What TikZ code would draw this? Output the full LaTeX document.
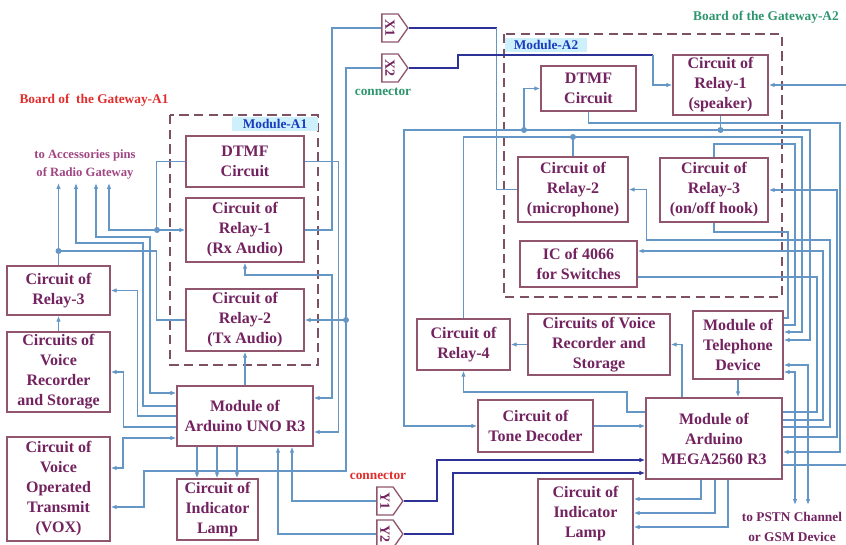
\documentclass[tikz,border=0pt]{standalone}
\usepackage{fontspec}
\setmainfont{Liberation Serif}
\usepackage{graphicx}
\usetikzlibrary{arrows.meta,shapes.symbols}

\definecolor{wirec}{RGB}{100,150,198}
\definecolor{xwirec}{RGB}{45,50,150}
\definecolor{boxc}{RGB}{145,85,110}
\definecolor{txtc}{RGB}{115,35,95}
\definecolor{acctxtc}{RGB}{160,70,130}
\definecolor{modc}{RGB}{125,80,100}
\definecolor{redc}{RGB}{225,45,45}
\definecolor{greenc}{RGB}{45,150,110}
\definecolor{modtxtc}{RGB}{25,60,190}
\definecolor{modfillc}{RGB}{205,240,252}

\tikzset{every picture/.style={line width=0.75pt}}
\tikzset{
  blk/.style={draw=boxc, line width=1.1pt, fill=white, text=txtc, align=center, inner sep=1pt,
    font=\bfseries\fontsize{12}{15}\selectfont},
  conn/.style={draw=boxc, line width=1pt, fill=white, shape=signal, signal to=east, signal pointer angle=110,
    minimum width=19.5pt, minimum height=21pt, inner sep=0pt, text=txtc, font=\bfseries\fontsize{10.5}{10.5}\selectfont},
  modbox/.style={draw=modc, line width=1.2pt, dash pattern=on 7pt off 4pt},
  modlbl/.style={fill=modfillc, text=modtxtc, inner sep=0pt, minimum height=10pt,
    font=\bfseries\fontsize{10}{12}\selectfont},
  lbl/.style={inner sep=1pt, font=\bfseries\fontsize{10}{12}\selectfont},
  acc/.style={inner sep=1pt, align=center, font=\bfseries\fontsize{9.5}{13.5}\selectfont},
  wire/.style={draw=wirec, line width=1pt},
  xwire/.style={draw=xwirec, line width=1pt},
  dot/.style={fill=wirec}
}

\begin{document}
\begin{tikzpicture}[x=0.75pt,y=0.75pt,yscale=-1,xscale=1,>={Latex[length=4.5pt,width=3.5pt]}]
\useasboundingbox (0,0) rectangle (846,545);

%Shape: dashed modules
\draw[modbox] (170,115) rectangle (318,365);
\draw[modbox] (504,34) rectangle (782,297);

% Text Node
\node[modlbl, minimum width=64.5pt] (modA) at (275,124) {Module-A1};
\node[modlbl, minimum width=61.5pt] (modB) at (546,45) {Module-A2};
\node[lbl, text=redc] (boardA) at (94,100) {Board of\ \ the Gateway-A1};
\node[lbl, text=greenc] (boardB) at (766,17) {Board of the Gateway-A2};
\node[lbl, text=greenc] (connX) at (383,92) {connector};
\node[lbl, text=redc] (connY) at (378,476) {connector};
\node[acc, text=acctxtc] (acc) at (85,164) {to Accessories pins\\of Radio Gateway};
\node[acc, text=txtc, font=\bfseries\fontsize{10}{15}\selectfont] (pstn) at (792,527) {to PSTN Channel\\or GSM Device};

%Board A1
\node[blk, minimum width=88.5pt, minimum height=38.25pt] (dtmfA) at (245,161.5) {DTMF\\Circuit};
\node[blk, minimum width=88.5pt, minimum height=48pt] (rlyAone) at (245,230) {Circuit of\\Relay-1\\(Rx Audio)};
\node[blk, minimum width=88.5pt, minimum height=46.5pt] (rlyAtwo) at (245,320) {Circuit of\\Relay-2\\(Tx Audio)};
\node[blk, minimum width=102pt, minimum height=45pt] (uno) at (245,416) {Module of\\Arduino UNO R3};
\node[blk, minimum width=60.75pt, minimum height=45.75pt] (lampA) at (217.5,509.5) {Circuit of\\Indicator\\Lamp};
\node[blk, minimum width=77.25pt, minimum height=36.75pt] (rlyAthree) at (58.5,290.5) {Circuit of\\Relay-3};
\node[blk, minimum width=77.25pt, minimum height=60pt] (recA) at (58.5,372) {Circuits of\\Voice\\Recorder\\and Storage};
\node[blk, minimum width=77.25pt, minimum height=78pt] (vox) at (58.5,489) {Circuit of\\Voice\\Operated\\Transmit\\(VOX)};

%Board A2
\node[blk, minimum width=71.25pt, minimum height=33.75pt] (dtmfB) at (588.5,88.5) {DTMF\\Circuit};
\node[blk, minimum width=71.25pt, minimum height=45pt] (rlyBone) at (720.5,85) {Circuit of\\Relay-1\\(speaker)};
\node[blk, minimum width=82.5pt, minimum height=48.75pt] (rlyBtwo) at (573,189.5) {Circuit of\\Relay-2\\(microphone)};
\node[blk, minimum width=81pt, minimum height=48pt] (rlyBthree) at (714,190) {Circuit of\\Relay-3\\(on/off hook)};
\node[blk, minimum width=87.75pt, minimum height=34.5pt] (ic) at (578.5,264) {IC of 4066\\for Switches};
\node[blk, minimum width=69.75pt, minimum height=38.25pt] (rlyBfour) at (463.5,344.5) {Circuit of\\Relay-4};
\node[blk, minimum width=106.5pt, minimum height=45.75pt] (recB) at (599,344.5) {Circuits of Voice\\Recorder and\\Storage};
\node[blk, minimum width=67.5pt, minimum height=51pt] (tel) at (738,345) {Module of\\Telephone\\Device};
\node[blk, minimum width=86.25pt, minimum height=39pt] (tone) at (535.5,426) {Circuit of\\Tone Decoder};
\node[blk, minimum width=102pt, minimum height=60.75pt] (mega) at (714,438.5) {Module of\\Arduino\\MEGA2560 R3};
\node[blk, minimum width=71.25pt, minimum height=51.75pt] (lampB) at (585.5,513.5) {Circuit of\\Indicator\\Lamp};

%Connectors
\node[conn] (X1) at (390,28) {\rotatebox{-90}{X1}};
\node[conn] (X2) at (390,68) {\rotatebox{-90}{X2}};
\node[conn] (Y1) at (385,501) {\rotatebox{-90}{Y1}};
\node[conn] (Y2) at (385,534) {\rotatebox{-90}{Y2}};

\coordinate (pinA) at (58.5,183);
\coordinate (pinB) at (76,183);
\coordinate (pinC) at (96,183);
\coordinate (pinD) at (109,183);
\coordinate (dA) at (157,230);
\coordinate (dB) at (58.5,251);
\coordinate (dC) at (346,320);
\coordinate (dD) at (524,130);
\coordinate (dE) at (720.5,130);
\coordinate (dF) at (573,137);
\coordinate (psA) at (795,505);
\coordinate (psB) at (808,505);
\coordinate (edgeA) at (846,85);
\coordinate (edgeB) at (846,465);

%Wires of board A1
\draw[wire,->] (rlyAthree.north) -- (pinA);
\draw[wire] (rlyAtwo.west) -- ++(-29,0) |- (dB);
\draw[wire,->] (dtmfA.west) -- ++(-29,0) |- (rlyAone.west);
\draw[wire,->] (dA) -| (pinD);
\draw[wire,<->] (pinC) |- (150,237) |- (uno.west |- 0,393);
\draw[wire,<-] (pinB) |- (143,243) |- (uno.west |- 0,406);
\draw[wire,<-] (rlyAthree.east) -- ++(27,0) |- (uno.west |- 0,416);
\draw[wire,<-] (recA.east) -- ++(13,0) |- (uno.west |- 0,427);
\draw[wire,<->] (vox.east |- 0,468) -- (123,468) |- (uno.west |- 0,438);
\draw[wire,->] (recA.north) -- (rlyAthree.south);
\draw[wire] (X2.west) -| (dC);
\draw[wire,->] (dC) -- (rlyAtwo.east);
\draw[wire,->] (dC) |- (144,471) |- (vox.east |- 0,507);
\draw[wire] (X1.west) -| (332,230) -- (rlyAone.east);
\draw[wire,->] (dtmfA.east) -- ++(34,0) |- (uno.east |- 0,432);
\draw[wire,<->] (rlyAone.south) |- (332,275) |- (uno.east |- 0,398);
\draw[wire,->] (uno.north) -- (rlyAtwo.south);
\draw[wire,->] (uno.south -| 197,0) -- (lampA.north -| 197,0);
\draw[wire,->] (uno.south -| 217,0) -- (lampA.north -| 217,0);
\draw[wire,->] (uno.south -| 237,0) -- (lampA.north -| 237,0);
\draw[wire,->] (Y1.west) -| (uno.south -| 292,0);
\draw[wire,->] (Y2.west) -| (uno.south -| 278,0);

%Wires of board A2
\draw[xwire] (X1.east) -- ++(88,0) coordinate (xa);
\draw[wire] (xa) |- (rlyBtwo.west);
\draw[xwire] (X2.east) -| (458,55) -- (653,55) coordinate (xb);
\draw[wire,->] (xb) |- (rlyBone.west);
\draw[xwire,->] (Y1.east) -| (437,460) -- (mega.west |- 0,460);
\draw[xwire,->] (Y2.east) -| (453,473) -- (mega.west |- 0,473);
\draw[wire] (rlyBone.south) -- (dE);
\draw[wire,<->] (tel.east |- 0,340) -| (810,130) -- (404,130) |- (tone.west);
\draw[wire,->] (dD) |- (dtmfB.west);
\draw[wire] (rlyBtwo.north) -- (dF);
\draw[wire,<-] (tel.east |- 0,332) -| (802,137) -- (rlyBfour.north |- 0,137) -- (rlyBfour.north);
\draw[wire] (rlyBthree.north) |- (795,144) |- (tel.east |- 0,325);
\draw[wire] (rlyBthree.south) |- (788,232) |- (tel.east |- 0,318);
\draw[wire,->] (dtmfB.south) |- (840,123) |- (mega.east |- 0,452);
\draw[wire,<-] (rlyBthree.east) -| (837,437) -- (mega.east |- 0,437);
\draw[wire,<-] (rlyBtwo.east) -- ++(18,0) |- (830,240) |- (mega.east |- 0,427);
\draw[wire,<-] (ic.east |- 0,251) -| (823,420) -- (mega.east |- 0,420);
\draw[wire] (ic.east |- 0,277) -| (817,412) -- (mega.east |- 0,412);
\draw[wire,<-] (rlyBone.east) -- (edgeA);
\draw[wire] (mega.east |- 0,465) -- (edgeB);
\draw[wire,<->] (tel.east |- 0,365) -| (psB);
\draw[wire,<->] (tel.east |- 0,372) -| (psA);
\draw[wire,->] (tel.south) -- (tel.south |- mega.north);
\draw[wire,->] (mega.north -| 682,0) |- (recB.east);
\draw[wire,->] (recB.west) -- (rlyBfour.east);
\draw[wire,->] (mega.west |- 0,412) -| (627,392) -| (rlyBfour.south);
\draw[wire,->] (tone.east) -- (tone.east -| mega.west);
\draw[wire,->] (mega.south -| 701,0) |- (lampB.east |- 0,499);
\draw[wire,->] (mega.south -| 715,0) |- (lampB.east |- 0,513);
\draw[wire,->] (mega.south -| 728,0) |- (lampB.east |- 0,527);

%Dots
\foreach \d in {dA,dB,dC,dD,dE,dF}
  \fill[dot] (\d) circle (3);

\end{tikzpicture}
\end{document}
